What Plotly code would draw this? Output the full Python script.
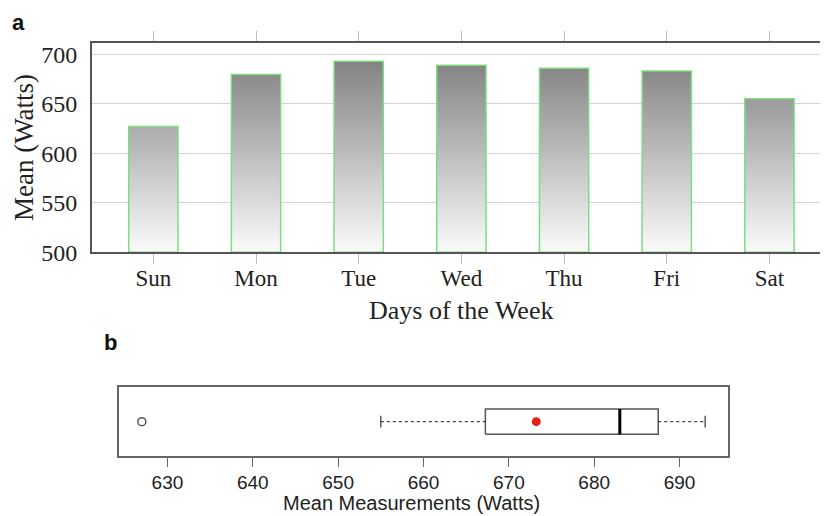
import numpy as np
import plotly.graph_objects as go

# ---------------- data ----------------
days = ["Sun", "Mon", "Tue", "Wed", "Thu", "Fri", "Sat"]
mean_watts = [627, 679.5, 693, 689, 686, 683, 655]
y_ticks = [500, 550, 600, 650, 700]

# The page body keeps its default 8px margin, so the figure is drawn 8px in
# from the window's top-left corner; size it to the visible area.
OFF = 8
W, H = 828 - OFF, 516 - OFF


def px_x(p):
    return (p - OFF) / W


def px_y(p):
    return 1 - (p - OFF) / H


fig = go.Figure()

# ---------------- panel a: gradient bars ----------------
bar_w = 0.48
base = 500
bx, by = [], []
for i, v in enumerate(mean_watts):
    bx += [i - bar_w / 2, i - bar_w / 2, i + bar_w / 2, i + bar_w / 2, i - bar_w / 2, None]
    by += [base, v, v, base, base, None]

fig.add_trace(go.Scatter(
    x=bx, y=by, mode="lines", fill="toself",
    line=dict(color="#7fdc7f", width=1.5),
    fillgradient=dict(type="vertical", start=500, stop=700,
                      colorscale=[[0, "#fbfbfb"], [1, "#7e7e7e"]]),
    xaxis="x", yaxis="y", showlegend=False, hoverinfo="skip",
))

# ---------------- panel b: boxplot built from the same values ----------------
vals = np.sort(np.array(mean_watts, dtype=float))
n = len(vals)
med = float(np.median(vals))
half = (n + 1) // 2
q1 = float(np.median(vals[:half]))
q3 = float(np.median(vals[n - half:]))
iqr = q3 - q1
lo_f, hi_f = q1 - 1.5 * iqr, q3 + 1.5 * iqr
inside = vals[(vals >= lo_f) & (vals <= hi_f)]
lw, uw = float(inside.min()), float(inside.max())
outl = vals[(vals < lo_f) | (vals > hi_f)]
mu = float(np.mean(vals))

bh = 0.37   # box half-height
ch = 0.17   # whisker cap half-height
box_col = "#555555"

fig.add_trace(go.Scatter(x=[q1, q3, q3, q1, q1], y=[-bh, -bh, bh, bh, -bh], mode="lines",
                         line=dict(color=box_col, width=1.5), xaxis="x2", yaxis="y2",
                         showlegend=False, hoverinfo="skip"))
fig.add_trace(go.Scatter(x=[lw, q1, None, q3, uw], y=[0, 0, None, 0, 0], mode="lines",
                         line=dict(color="#444444", width=1.4, dash="3px,3px"),
                         xaxis="x2", yaxis="y2", showlegend=False, hoverinfo="skip"))
fig.add_trace(go.Scatter(x=[lw, lw, None, uw, uw], y=[-ch, ch, None, -ch, ch], mode="lines",
                         line=dict(color="#444444", width=1.3),
                         xaxis="x2", yaxis="y2", showlegend=False, hoverinfo="skip"))
fig.add_trace(go.Scatter(x=[med, med], y=[-bh, bh], mode="lines",
                         line=dict(color="#000000", width=3),
                         xaxis="x2", yaxis="y2", showlegend=False, hoverinfo="skip"))
fig.add_trace(go.Scatter(x=outl, y=[0] * len(outl), mode="markers",
                         marker=dict(symbol="circle-open", size=8, color="#555555",
                                     line=dict(width=1.5)),
                         xaxis="x2", yaxis="y2", showlegend=False, hoverinfo="skip"))
fig.add_trace(go.Scatter(x=[mu], y=[0], mode="markers",
                         marker=dict(symbol="circle", size=9, color="#e3201b"),
                         xaxis="x2", yaxis="y2", showlegend=False, hoverinfo="skip"))

span = vals.max() - vals.min()
x2_range = [vals.min() - 0.04 * span, vals.max() + 0.04 * span]

serif = "Liberation Serif, Times New Roman, serif"
sans = "Liberation Sans, Arial, sans-serif"

fig.update_layout(
    width=W, height=H, autosize=False,
    margin=dict(l=0, r=0, t=0, b=0),
    paper_bgcolor="white", plot_bgcolor="white",
    xaxis=dict(
        domain=[px_x(91.7), 1.0], anchor="y", automargin=False,
        range=[-0.6, 6.57], tickvals=list(range(len(days))), ticktext=days,
        ticks="outside", ticklen=10, tickcolor="#c0c0c0", tickwidth=1,
        showline=True, linecolor="#555555", linewidth=2, mirror="ticks",
        showgrid=False, zeroline=False, ticklabelstandoff=-6,
        tickfont=dict(family=serif, size=23, color="#222222"),
    ),
    yaxis=dict(
        domain=[px_y(252.3), px_y(43)], anchor="x", automargin=False,
        range=[500, 711.4], tickvals=y_ticks,
        showgrid=True, gridcolor="#d4d4d4", gridwidth=1,
        showline=True, linecolor="#555555", linewidth=1.5,
        ticks="", ticklabelstandoff=8, zeroline=False,
        tickfont=dict(family=serif, size=24, color="#222222"),
    ),
    xaxis2=dict(
        domain=[px_x(119.3), px_x(727.7)], anchor="y2", automargin=False,
        range=x2_range, dtick=10, tick0=630,
        ticks="outside", ticklen=9, tickcolor="#666666", tickwidth=1.3,
        showline=True, linecolor="#666666", linewidth=1.5, mirror=True,
        showgrid=False, zeroline=False, ticklabelstandoff=-1,
        tickfont=dict(family=sans, size=19, color="#222222"),
    ),
    yaxis2=dict(
        domain=[px_y(456), px_y(387.3)], anchor="x2", automargin=False,
        range=[-1, 1], showticklabels=False, ticks="",
        showline=True, linecolor="#666666", linewidth=1.5, mirror=True,
        showgrid=False, zeroline=False,
    ),
    annotations=[
        dict(text="Mean (Watts)", textangle=-90, x=px_x(24), y=px_y(148),
             xref="paper", yref="paper", showarrow=False, xanchor="center", yanchor="middle",
             font=dict(family=serif, size=27, color="#222222")),
        dict(text="Days of the Week", x=px_x(461), y=px_y(310),
             xref="paper", yref="paper", showarrow=False, xanchor="center", yanchor="middle",
             font=dict(family=serif, size=26, color="#222222")),
        dict(text="Mean Measurements (Watts)", x=px_x(411.7), y=px_y(503),
             xref="paper", yref="paper", showarrow=False, xanchor="center", yanchor="middle",
             font=dict(family=sans, size=20, color="#222222")),
        dict(text="<b>a</b>", x=px_x(18), y=1.0,
             xref="paper", yref="paper", showarrow=False, xanchor="center", yanchor="top",
             font=dict(family=sans, size=22, color="#111111")),
        dict(text="<b>b</b>", x=px_x(110), y=px_y(342),
             xref="paper", yref="paper", showarrow=False, xanchor="center", yanchor="middle",
             font=dict(family=sans, size=22, color="#111111")),
    ],
)

fig.write_html("out.html")
